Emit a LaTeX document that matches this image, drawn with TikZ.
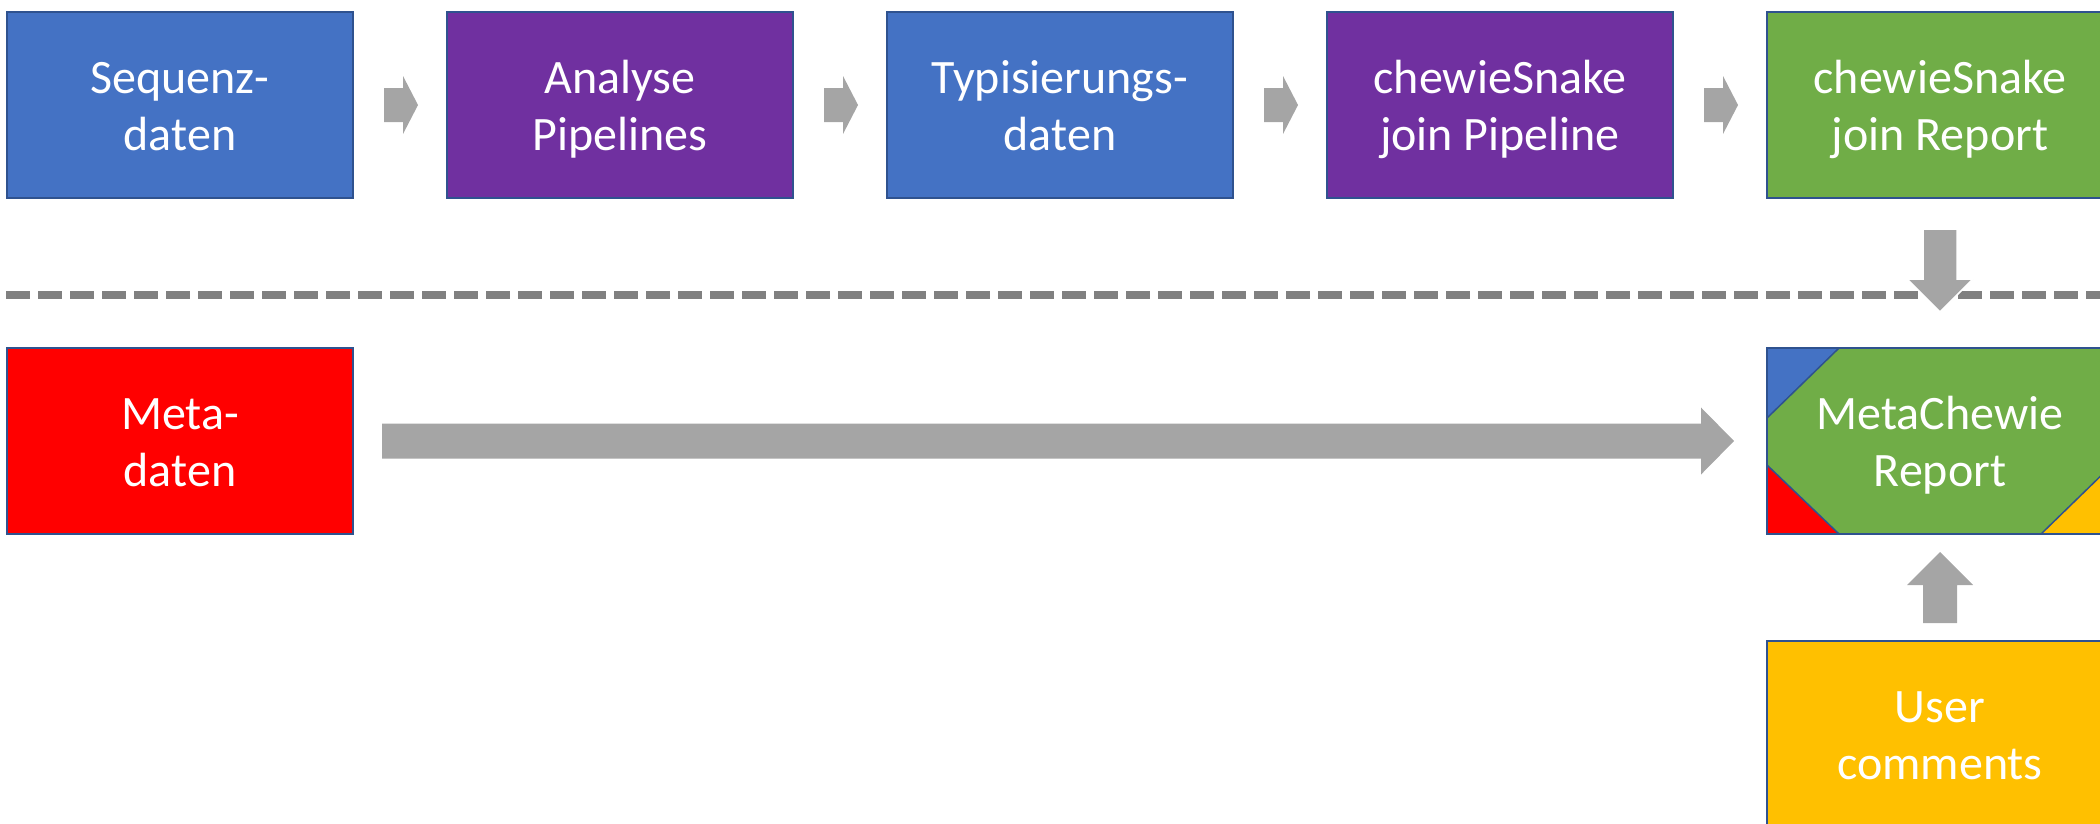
\documentclass[tikz,border=0pt]{standalone}
\usepackage{fontspec}
\setmainfont{Carlito}
\usetikzlibrary{calc,backgrounds}
\definecolor{cblue}{HTML}{4472C4}
\definecolor{cpurple}{HTML}{7030A0}
\definecolor{cgreen}{HTML}{70AD47}
\definecolor{cred}{HTML}{FF0000}
\definecolor{cyellow}{HTML}{FFC000}
\definecolor{cborder}{HTML}{2F528F}
\definecolor{carrow}{HTML}{A5A5A5}
\definecolor{cdash}{HTML}{808080}
\newcommand\lnstrut{\rule[-12pt]{0pt}{57.6pt}}
\begin{document}
\begin{tikzpicture}[x=1pt,y=-1pt,
  box/.style={draw=cborder, line width=1.5pt, minimum width=346pt, minimum height=186pt,
    inner sep=0pt, outer sep=0pt, align=center, text=white, font=\fontsize{48}{57.6}\selectfont},
  corner/.style={fill=#1, draw=cborder, line width=1.5pt, line join=miter},
  harr/.pic={\fill[carrow] (-16,-17) -- (3,-17) -- (3,-29) -- (18,0) -- (3,29) -- (3,17) -- (-16,17) -- cycle;}]
\useasboundingbox (0,0) rectangle (2100,823);
% top row
\node[box, fill=cblue]   (seq)  at (180,105)  {\lnstrut Sequenz-\\\lnstrut daten};
\node[box, fill=cpurple] (ana)  at (620,105)  {\lnstrut Analyse\\\lnstrut Pipelines};
\node[box, fill=cblue]   (typ)  at (1060,105) {\lnstrut Typisierungs-\\\lnstrut daten};
\node[box, fill=cpurple] (pipe) at (1500,105) {\lnstrut chewieSnake\\\lnstrut join Pipeline};
\node[box, fill=cgreen]  (rep)  at (1940,105) {\lnstrut chewieSnake\\\lnstrut join Report};
% small arrows
\pic at ($(seq.east)!0.5!(ana.west)$) {harr};
\pic at ($(ana.east)!0.5!(typ.west)$) {harr};
\pic at ($(typ.east)!0.5!(pipe.west)$) {harr};
\pic at ($(pipe.east)!0.5!(rep.west)$) {harr};
% dashed separator
\draw[cdash, line width=8pt, dash pattern=on 24pt off 8pt] (6,295) -- (2100,295);
% second row
\node[box, fill=cred] (meta) at (180,441) {\lnstrut Meta-\\\lnstrut daten};
\node[box] (mc) at (1940,441) {\lnstrut MetaChewie\\\lnstrut Report};
\begin{pgfonlayer}{background}
\fill[cgreen] (mc.north west) rectangle (mc.south east);
\filldraw[corner=cblue] (mc.north west) -- ++(72,0) -- ++(-72,70) -- cycle;
\filldraw[corner=cred] (mc.south west) -- ++(0,-69) -- ++(72,69) -- cycle;
\filldraw[corner=cyellow] (mc.south east) -- ++(-72,0) -- ++(72,-70) -- cycle;
\end{pgfonlayer}
\node[box, fill=cyellow] (user) at (1940,734) {\lnstrut User\\\lnstrut comments};
% down arrow
\filldraw[fill=carrow, draw=white, line width=1.5pt]
  ($(rep.south)!0.5!(mc.north)$) ++(-17,-44) -- ++(34,0) -- ++(0,50) -- ++(16,0)
  -- ++(-33,33) -- ++(-33,-33) -- ++(16,0) -- cycle;
% up arrow
\fill[carrow]
  ($(mc.south)!0.5!(user.north)$) ++(-17,35.5) -- ++(0,-38) -- ++(-16,0)
  -- ++(33,-33) -- ++(33,33) -- ++(-16,0) -- ++(0,38) -- cycle;
% big arrow
\fill[carrow]
  ($(meta.east)+(29,-17.5)$) -- ($(mc.west)+(-66,-17.5)$) -- ++(0,-16)
  -- ($(mc.west)+(-33,0)$) -- ($(mc.west)+(-66,33.5)$) -- ++(0,-16)
  -- ($(meta.east)+(29,17.5)$) -- cycle;
\end{tikzpicture}
\end{document}
